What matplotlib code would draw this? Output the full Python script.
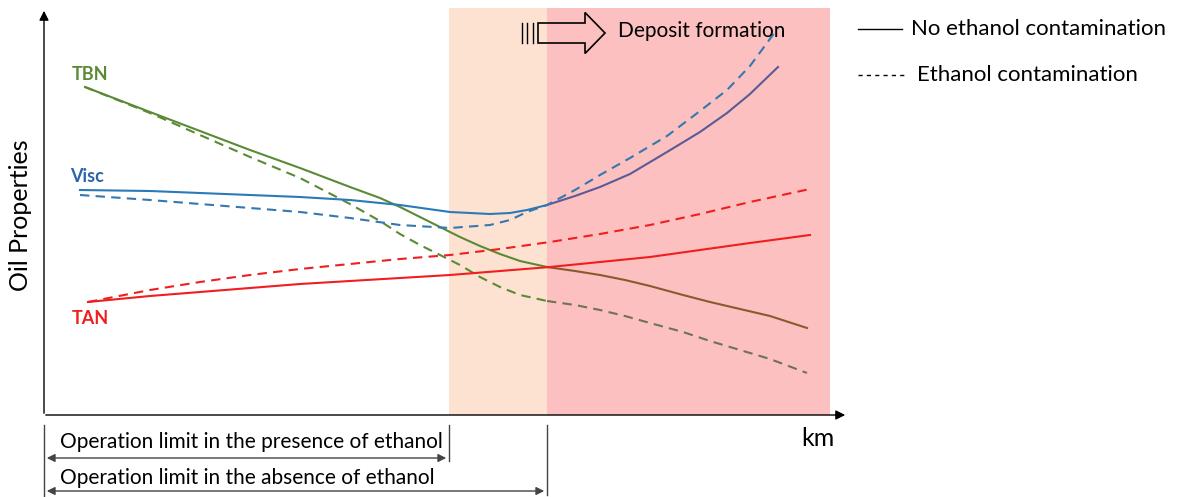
import matplotlib.pyplot as plt
from matplotlib.patches import FancyArrow

plt.rcParams['font.family'] = ['Lato', 'DejaVu Sans']

# curves (pixel-like units, y grows downward)
tbn_x = [85, 150, 200, 250, 300, 350, 380, 400, 420, 440, 460, 480, 500, 520, 547,
         575, 600, 625, 650, 683, 710, 740, 770, 807]
tbn_solid = [87, 112, 131, 150, 168, 187, 198, 207, 217, 227, 237, 246, 254, 261, 267,
             271, 275, 280, 286, 295, 302, 309, 316, 328]
tbn_dash = [87, 113, 135, 157, 178, 204, 221, 234, 245, 255, 265, 277, 287, 295, 301,
            305, 310, 316, 323, 332, 341, 350, 359, 373]

visc_x = [80, 150, 200, 250, 300, 350, 400, 450, 490, 510, 527, 547, 575, 600, 630,
          667, 700, 727, 750, 778]
visc_solid = [190, 191, 193, 195, 197, 200, 205, 212, 214, 213, 210, 205, 196, 187, 174,
              152, 132, 113, 94, 67]
visc_dash = [195, 200, 204, 208, 212, 218, 225, 228, 225, 220, 212, 205, 190, 175, 158,
             136, 111, 90, 66, 28]

tan_x = [88, 150, 200, 250, 300, 350, 400, 450, 500, 550, 600, 650, 700, 750, 810]
tan_solid = [302, 296, 292, 288, 284, 281, 278, 275, 271, 267, 262, 257, 250, 243, 235]
tan_dash = [302, 290, 282, 275, 269, 264, 259, 255, 249, 242, 234, 225, 214, 202, 189]

limit_ethanol = 449
limit_no_ethanol = 547
x_end = 830

fig = plt.figure(figsize=(11.82, 4.97), dpi=100)
ax = fig.add_axes([0, 0, 1, 1])
ax.set_xlim(0, 1182)
ax.set_ylim(497, 0)
ax.axis('off')

# shaded zones
ax.axvspan(limit_ethanol, limit_no_ethanol, ymin=1 - 415 / 497, ymax=1 - 8 / 497, color='#fde2d2', lw=0)
ax.axvspan(limit_no_ethanol, x_end, ymin=1 - 415 / 497, ymax=1 - 8 / 497, color='#fdc0c0', lw=0)

# axes with arrows
ax.annotate('', xy=(44, 8), xytext=(44, 416),
            arrowprops=dict(arrowstyle='-|>', color='black', lw=1, mutation_scale=14))
ax.annotate('', xy=(848, 415), xytext=(43, 415),
            arrowprops=dict(arrowstyle='-|>', color='black', lw=1, mutation_scale=14))

# curves
green = '#5b8a35'
blue = '#2a7ab8'
red = '#f01e1e'
dash = (0, (4.5, 3))
k_tbn = tbn_x.index(limit_no_ethanol)
k_visc = visc_x.index(limit_no_ethanol)
ax.plot(tbn_x[:k_tbn + 1], tbn_solid[:k_tbn + 1], color=green, lw=1.5)
ax.plot(tbn_x[k_tbn:], tbn_solid[k_tbn:], color='#8a5a2e', lw=1.5)
ax.plot(tbn_x[:k_tbn + 1], tbn_dash[:k_tbn + 1], color=green, lw=1.5, ls=dash)
ax.plot(tbn_x[k_tbn:], tbn_dash[k_tbn:], color='#6e7450', lw=1.5, ls=dash)
ax.plot(visc_x[:k_visc + 1], visc_solid[:k_visc + 1], color=blue, lw=1.5)
ax.plot(visc_x[k_visc:], visc_solid[k_visc:], color='#5a5a96', lw=1.5)
ax.plot(visc_x, visc_dash, color='#3478b0', lw=1.5, ls=dash)
ax.plot(tan_x, tan_solid, color=red, lw=1.5)
ax.plot(tan_x, tan_dash, color=red, lw=1.5, ls=dash)

# curve labels
ax.text(72, 75, 'TBN', color=green, fontsize=13, fontweight='bold', va='center')
ax.text(70, 176, 'Visc', color='#2e64a8', fontsize=13, fontweight='bold', va='center')
ax.text(72, 319, 'TAN', color=red, fontsize=13, fontweight='bold', va='center')

ax.text(21, 215, 'Oil Properties', rotation=90, fontsize=18, ha='center', va='center')
ax.text(818, 438, 'km', fontsize=18, ha='center', va='center')

# legend
ax.plot([858, 902], [29, 29], color='black', lw=1)
ax.text(911, 29, 'No ethanol contamination', fontsize=16, va='center')
ax.plot([858, 908], [75, 75], color='black', lw=1, ls=(0, (3, 3)))
ax.text(917, 75, 'Ethanol contamination', fontsize=16, va='center')

# deposit formation arrow
for bx in [522, 527, 533]:
    ax.plot([bx, bx], [23, 43], color='black', lw=1)
ax.add_patch(FancyArrow(538, 33, 67, 0, width=20, head_width=41, head_length=20,
                        length_includes_head=True, facecolor='none', edgecolor='black', lw=1.2))
ax.text(618, 31, 'Deposit formation', fontsize=15, va='center')

# operation limits
for lx, y0, y1 in [(44, 425, 497), (limit_ethanol, 425, 461), (limit_no_ethanol, 425, 495)]:
    ax.plot([lx, lx], [y0, y1], color='#444444', lw=1)
ax.annotate('', xy=(44, 458), xytext=(limit_ethanol, 458),
            arrowprops=dict(arrowstyle='<|-|>', color='#444444', lw=1, mutation_scale=12))
ax.annotate('', xy=(44, 491), xytext=(limit_no_ethanol, 491),
            arrowprops=dict(arrowstyle='<|-|>', color='#444444', lw=1, mutation_scale=12))
ax.text(60, 442, 'Operation limit in the presence of ethanol', fontsize=15, va='center')
ax.text(60, 478, 'Operation limit in the absence of ethanol', fontsize=15, va='center')

fig.savefig('out.png', dpi=100)
